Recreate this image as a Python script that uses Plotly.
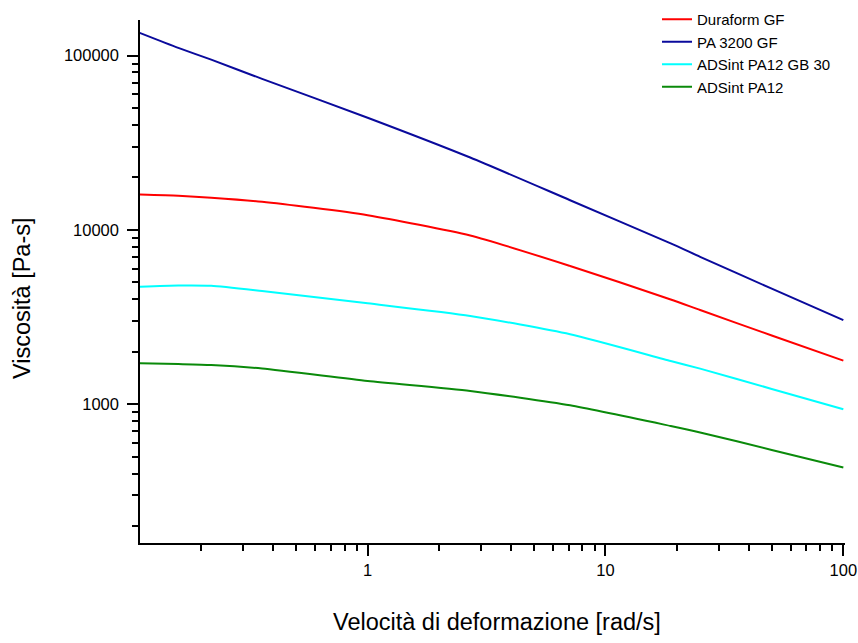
import plotly.graph_objects as go

# Shear rate [rad/s]
rate = [0.11, 0.16, 0.22, 0.36, 1.0, 2.7, 7.1, 18.8, 25, 50, 100]

# Viscosity [Pa-s]
duraform_gf = [15950, 15700, 15300, 14500, 12150, 9290, 6210, 3990, 3470, 2480, 1778]
pa3200_gf = [135000, 110700, 94800, 73500, 44000, 26000, 14800, 8370, 7010, 4600, 3040]
adsint_gb30 = [4720, 4800, 4780, 4460, 3790, 3210, 2520, 1770, 1600, 1224, 935]
adsint_pa12 = [1718, 1700, 1680, 1603, 1360, 1192, 986, 750, 689, 547, 434]

series_names = ["Duraform GF", "PA 3200 GF", "ADSint PA12 GB 30", "ADSint PA12"]
series_values = [duraform_gf, pa3200_gf, adsint_gb30, adsint_pa12]
series_colors = ["#FF0000", "#0A0A9C", "#00FFFF", "#0A8A0A"]

x_tick_vals = [1, 10, 100]
x_tick_text = ["1", "10", "100"]
y_tick_vals = [1000, 10000, 100000]
y_tick_text = ["1000", "10000", "100000"]

x_title = "Velocità di deformazione [rad/s]"
y_title = "Viscosità [Pa-s]"

x_minor = [m * d for d in (0.1, 1, 10) for m in range(2, 10)]
y_minor = [m * d for d in (100, 1000, 10000) for m in range(2, 10)]

fig = go.Figure()
for name, vals, col in zip(series_names, series_values, series_colors):
    fig.add_trace(go.Scatter(
        x=rate, y=vals, name=name, mode="lines",
        line=dict(color=col, width=2, shape="spline", smoothing=0.6),
    ))

font_family = "Liberation Sans, Arial, sans-serif"
axis_common = dict(
    type="log", automargin=False,
    showline=True, linecolor="black", linewidth=1.5,
    showgrid=False, zeroline=False,
    ticks="outside", ticklen=11, tickwidth=1.5, tickcolor="black",
    tickfont=dict(family=font_family, size=16.5, color="black"),
    tickmode="array",
    minor=dict(ticks="outside", ticklen=6, tickwidth=1.5, tickcolor="black",
               showgrid=False, tickmode="array"),
)

fig.update_xaxes(**axis_common, range=[-0.957, 2.007],
                 tickvals=x_tick_vals, ticktext=x_tick_text)
fig.update_xaxes(minor_tickvals=x_minor)
fig.update_yaxes(**axis_common, range=[2.204, 5.204],
                 tickvals=y_tick_vals, ticktext=y_tick_text,
                 ticklabelstandoff=5)
fig.update_yaxes(minor_tickvals=y_minor)

W, H = 858, 643
fig.update_layout(
    width=W, height=H,
    margin=dict(l=140, r=13, t=20, b=100, autoexpand=False),
    paper_bgcolor="white", plot_bgcolor="white",
    font=dict(family=font_family, color="black"),
    showlegend=True,
    legend=dict(
        xref="container", yref="container",
        x=657 / W, y=1 - 3 / H,
        xanchor="left", yanchor="top",
        bgcolor="rgba(0,0,0,0)", borderwidth=0,
        font=dict(family=font_family, size=15, color="black"),
        tracegroupgap=0,
    ),
    annotations=[
        dict(text=x_title, xref="paper", yref="paper",
             x=(497 - 140) / 705, y=-(622 - 543) / 523,
             xanchor="center", yanchor="middle", showarrow=False,
             font=dict(family=font_family, size=23.5, color="black")),
        dict(text=y_title, xref="paper", yref="paper",
             x=-(140 - 22) / 705, y=(543 - 298) / 523,
             xanchor="center", yanchor="middle", showarrow=False, textangle=-90,
             font=dict(family=font_family, size=23.5, color="black")),
    ],
)

fig.write_html(
    "out.html",
    config={"displayModeBar": False},
    post_script="document.body.style.margin='0';document.body.style.overflow='hidden';",
)
